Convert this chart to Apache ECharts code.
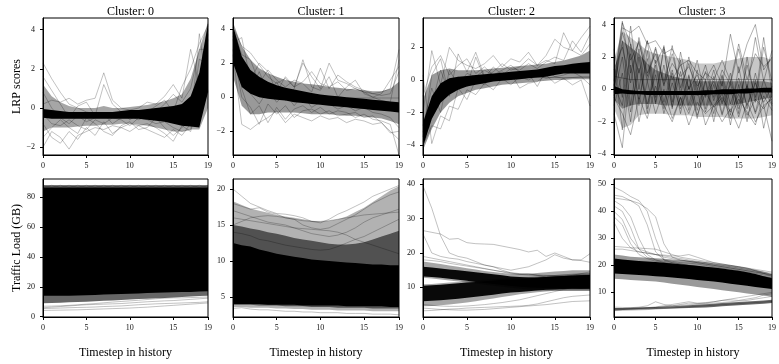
<!DOCTYPE html>
<html>
<head>
<meta charset="utf-8">
<script src="https://cdn.jsdelivr.net/npm/echarts@6/dist/echarts.min.js"></script>
<style>
  html, body { margin: 0; padding: 0; background: #fff; }
  #chart { width: 779px; height: 364px; }
</style>
</head>
<body>
<div id="chart"></div>
<script>
// x positions (timestep in history)
const steps = [0, 1, 2, 3, 4, 5, 6, 7, 8, 9, 10, 11, 12, 13, 14, 15, 16, 17, 18, 19]
const clusterNames = ['Cluster: 0', 'Cluster: 1', 'Cluster: 2', 'Cluster: 3']
const xTicks = [0, 5, 10, 15, 19]
const lrpTicks = [[-2, 0, 2, 4], [-2, 0, 2, 4], [-4, -2, 0, 2], [-4, -2, 0, 2, 4]]
const loadTicks = [[0, 20, 40, 60, 80], [5, 10, 15, 20], [10, 20, 30, 40], [10, 20, 30, 40, 50]]

// ---- cluster 0, LRP ----
const c0LrpOuterLo = [-1.2, -1.0, -1.0, -1.0, -0.95, -0.9, -0.9, -0.85, -0.85, -0.8, -0.8, -0.85, -0.9, -1.0, -1.1, -1.2, -1.2, -1.1, -1.1, 0.0]
const c0LrpOuterHi = [1.2, 0.6, 0.3, 0.1, 0.0, 0.0, 0.0, 0.1, 0.0, 0.0, 0.05, 0.1, 0.15, 0.25, 0.35, 0.5, 0.7, 1.5, 3.0, 4.4]
const c0LrpCoreLo = [-0.5, -0.55, -0.55, -0.55, -0.55, -0.55, -0.55, -0.55, -0.55, -0.55, -0.55, -0.55, -0.6, -0.65, -0.7, -0.8, -0.9, -0.95, -1.0, 0.8]
const c0LrpCoreHi = [-0.05, -0.1, -0.15, -0.2, -0.2, -0.2, -0.2, -0.2, -0.2, -0.15, -0.1, -0.1, -0.05, 0.0, 0.05, 0.1, 0.2, 0.6, 1.8, 4.3]
const c0LrpLines = [
  [2.3, 1.5, 0.8, 0.2, 0.0, -0.2, -0.3, -0.3, -0.3, -0.3, -0.3, -0.3, -0.3, -0.3, -0.3, -0.4, -0.5, -0.5, 1.0, 3.5],
  [-2.0, -1.2, -1.5, -2.1, -1.4, -1.2, -1.0, -1.1, -0.9, -1.0, -0.8, -0.9, -0.8, -1.0, -1.3, -1.7, -0.9, -1.2, 0.5, 3.8],
  [0.2, 0.4, 0.3, 0.5, 0.2, 0.4, 0.5, 1.8, 0.4, 0.0, -0.1, 0.0, 0.3, 0.2, 0.6, 1.2, 0.5, 3.0, 1.2, 4.0],
  [-0.8, -1.5, -1.8, -1.2, -1.6, -1.0, -1.4, -0.7, -1.3, -1.0, -1.2, -0.9, -1.1, -1.3, -1.5, -1.1, -1.4, -0.8, 3.8, 0.8],
  [1.6, 0.9, 0.2, -0.5, 0.1, 0.3, -0.4, 1.2, 0.2, -0.2, -0.6, -0.3, -0.2, 0.1, 0.4, -0.2, 1.1, 2.0, 3.3, 4.2],
  [-1.5, -1.0, -0.6, -1.0, -1.3, -0.5, -0.8, -1.2, -1.4, -0.9, -0.7, -1.1, -1.0, -0.5, -1.0, -1.4, -1.0, -0.6, 2.5, 2.2],
  [0.8, 0.0, -0.5, -0.8, -0.4, -0.7, -0.5, -0.3, -0.8, -0.5, -0.4, -0.6, -0.4, -0.2, 0.2, 0.7, 0.3, 1.0, 3.0, 3.0],
  [-0.3, -0.8, -0.9, -0.6, -0.9, -1.1, -0.6, -0.8, -0.5, -0.6, -0.9, -0.5, -0.6, -0.8, -0.7, -1.0, -1.2, -1.1, 1.2, 4.3]
]

// ---- cluster 1, LRP ----
const c1LrpOuterLo = [1.2, -0.5, -1.0, -1.0, -0.9, -0.9, -0.9, -0.9, -0.95, -1.0, -1.0, -1.0, -1.05, -1.1, -1.1, -1.15, -1.2, -1.25, -1.4, -1.6]
const c1LrpOuterHi = [4.4, 3.0, 2.2, 1.7, 1.4, 1.2, 1.0, 0.9, 0.8, 0.75, 0.7, 0.6, 0.55, 0.5, 0.45, 0.4, 0.35, 0.35, 0.5, 0.9]
const c1LrpCoreLo = [2.0, 0.6, 0.2, 0.0, -0.1, -0.15, -0.2, -0.3, -0.35, -0.4, -0.45, -0.5, -0.55, -0.6, -0.65, -0.7, -0.75, -0.8, -0.85, -0.9]
const c1LrpCoreHi = [4.2, 2.4, 1.6, 1.2, 0.9, 0.7, 0.55, 0.45, 0.35, 0.25, 0.15, 0.1, 0.05, 0.0, -0.05, -0.1, -0.15, -0.2, -0.25, -0.3]
const c1LrpLines = [
  [4.0, 1.5, 0.8, 0.5, 0.3, 0.2, 0.1, 0.05, 0.0, 0.0, -0.05, -0.05, -0.05, -0.05, -0.05, -0.05, -0.05, -0.05, -0.05, -0.05],
  [3.2, 3.5, 1.0, 2.0, 1.5, 0.3, 1.2, 0.6, 2.0, 1.2, 0.5, 2.0, 1.0, 0.8, 0.5, 0.3, 0.2, 0.3, 0.5, 2.8],
  [2.5, -1.6, -1.9, -1.5, -1.2, -0.8, -1.5, -1.0, -1.2, -1.4, -1.1, -1.3, -1.2, -1.5, -1.3, -1.4, -1.6, -1.5, -2.0, -2.5],
  [4.0, 2.5, 2.2, 0.8, 1.6, 1.0, 0.6, 1.0, 0.8, 0.3, 1.7, 0.5, 1.3, 0.9, 0.6, 0.4, 0.2, 0.1, 0.2, 1.5],
  [3.4, 0.5, -1.0, -0.5, -1.5, -0.6, -1.3, -0.7, -0.5, -0.9, -0.6, -1.0, -0.8, -0.9, -1.2, -1.0, -1.3, -1.4, -1.6, -3.4],
  [3.6, 1.8, 0.3, 1.5, 0.2, 0.9, -0.2, 0.5, 2.2, 0.6, 0.4, 1.2, 0.0, 0.6, 1.0, 0.2, 0.0, -0.2, -0.3, 2.2],
  [2.8, 0.0, -0.6, -1.6, -0.4, -1.0, -0.5, -1.2, -0.8, -0.7, -1.0, -0.8, -1.1, -1.0, -0.9, -1.2, -1.1, -1.5, -2.1, -2.0],
  [4.1, 3.0, 2.6, 1.9, 1.2, 0.8, 1.1, 0.6, 0.9, 1.5, 0.8, 0.6, 0.9, 0.4, 0.5, 0.3, 0.0, 0.2, 1.0, 1.8],
  [3.8, 1.2, 0.2, -0.4, 0.4, -0.3, 0.2, -0.5, 0.1, -0.6, -0.3, -0.4, -0.7, -0.5, -0.8, -0.6, -0.9, -1.0, -1.2, -1.8]
]

// ---- cluster 2, LRP ----
const c2LrpOuterLo = [-4.3, -3.0, -2.0, -1.4, -1.0, -0.8, -0.6, -0.5, -0.4, -0.3, -0.25, -0.2, -0.15, -0.1, -0.05, 0.0, 0.0, 0.05, 0.05, 0.05]
const c2LrpOuterHi = [-1.2, 0.3, 0.6, 0.7, 0.6, 0.6, 0.6, 0.65, 0.7, 0.75, 0.8, 0.85, 0.9, 0.95, 1.0, 1.1, 1.2, 1.35, 1.5, 1.8]
const c2LrpCoreLo = [-4.1, -2.4, -1.4, -0.9, -0.6, -0.4, -0.3, -0.2, -0.1, -0.05, 0.0, 0.05, 0.1, 0.15, 0.2, 0.3, 0.4, 0.4, 0.4, 0.4]
const c2LrpCoreHi = [-2.6, -1.0, -0.2, 0.1, 0.2, 0.25, 0.3, 0.35, 0.4, 0.45, 0.5, 0.55, 0.6, 0.65, 0.75, 0.85, 0.9, 1.0, 1.05, 1.1]
const c2LrpLines = [
  [-3.5, 0.3, 1.3, -1.0, 1.6, 0.5, 1.7, 0.2, 0.5, 1.0, 0.6, 0.8, 1.3, 0.9, 1.5, 2.5, 2.0, 1.8, 2.6, 3.3],
  [0.3, -3.9, -2.2, -2.5, -0.5, -1.2, 0.0, -0.3, 0.3, 0.1, 0.4, -0.5, -0.2, -0.1, 0.3, -0.2, 0.1, -0.3, 0.0, -1.6],
  [-2.0, 1.8, -0.3, 2.0, 1.2, 0.9, 0.7, 1.0, 1.5, 0.8, 1.3, 1.1, 1.7, 0.9, 1.2, 1.0, 2.9, 1.8, 1.5, 2.2],
  [-4.0, -2.8, -3.0, -1.6, -1.8, -0.6, -0.9, -0.2, -0.6, 0.1, -0.3, 0.2, 0.0, 0.3, 0.1, 0.2, 0.1, 0.15, 0.2, 0.2],
  [-1.0, 0.8, 1.5, 0.3, 0.9, 1.3, 0.4, 0.8, 0.3, 0.6, 0.9, 0.5, 0.4, -0.4, 0.6, 0.2, 0.3, 0.5, 0.2, -0.3],
  [-3.8, -1.5, 0.6, -0.8, 0.2, -0.4, 1.4, 0.1, 0.8, 0.3, 0.7, 0.6, 1.0, 0.7, 1.1, 1.4, 1.2, 2.4, 1.7, 2.8],
  [-2.8, -0.5, -2.0, 0.6, -0.3, 0.4, 0.2, 0.6, 0.3, 0.5, 0.2, 0.4, 0.3, 0.6, 0.4, 0.5, 0.6, 0.7, 0.8, 1.0],
  [-3.2, -1.8, -0.8, -0.4, -0.2, 0.0, 0.05, 0.1, 0.1, 0.1, 0.15, 0.15, 0.15, 0.15, 0.15, 0.15, 0.15, 0.15, 0.15, 0.15]
]

// ---- cluster 3, LRP ----
const c3LrpOuterLo = [-1.2, -2.4, -2.2, -1.6, -1.5, -1.5, -1.5, -1.6, -1.6, -1.6, -1.7, -1.7, -1.7, -1.7, -1.8, -1.8, -1.8, -1.8, -1.7, -1.6]
const c3LrpOuterHi = [1.8, 3.6, 3.2, 2.8, 2.4, 2.2, 2.1, 2.0, 1.9, 1.8, 1.6, 1.6, 1.6, 1.7, 1.8, 1.9, 2.0, 2.0, 2.0, 1.8]
const c3LrpMidLo = [-0.6, -1.2, -1.0, -0.9, -0.9, -0.9, -1.0, -1.0, -1.0, -1.0, -1.0, -1.0, -1.0, -1.0, -1.0, -0.9, -0.8, -0.7, -0.6, -0.5]
const c3LrpMidHi = [0.8, 3.0, 2.6, 2.2, 1.6, 1.2, 1.0, 0.8, 0.7, 0.6, 0.5, 0.5, 0.5, 0.5, 0.5, 0.5, 0.5, 0.5, 0.5, 0.4]
const c3LrpCoreLo = [-0.3, -0.25, -0.3, -0.3, -0.35, -0.35, -0.35, -0.35, -0.35, -0.35, -0.35, -0.35, -0.3, -0.3, -0.3, -0.25, -0.25, -0.2, -0.2, -0.2]
const c3LrpCoreHi = [0.2, 0.0, -0.05, -0.1, -0.1, -0.1, -0.1, -0.1, -0.1, -0.1, -0.1, -0.05, -0.05, 0.0, 0.0, 0.0, 0.05, 0.05, 0.1, 0.1]
const c3LrpLines = [
  [0.5, 4.2, 1.0, 3.0, 0.5, 2.5, 0.2, 2.7, -0.3, 2.0, 0.0, 1.5, -0.5, 1.2, 0.3, 2.5, 0.0, 3.2, 0.5, 2.4],
  [2.5, -0.5, 3.9, 0.0, 3.0, -0.5, 2.5, -0.8, 1.8, -1.0, 1.2, -1.2, 0.8, -1.5, 0.5, -1.0, 1.5, -0.5, 3.2, -0.2],
  [-1.5, -3.6, 1.5, -2.0, 0.5, -1.5, 0.0, -1.8, -0.5, -2.2, -0.8, -1.5, -1.0, -2.0, -1.2, -2.4, -0.8, -2.0, -1.0, -3.2],
  [0.0, 3.8, 3.5, 3.9, 2.8, 3.0, 2.2, 2.5, 1.5, 1.8, 1.0, 0.6, 1.5, 0.2, 3.4, 1.0, 2.8, 4.0, 1.2, 2.0],
  [-1.0, 1.0, -2.0, 2.0, -1.5, 1.5, -1.2, 1.0, -1.5, 0.8, -1.8, 0.5, -2.0, 0.5, -2.2, 0.3, -2.0, 0.6, -2.4, 0.0],
  [2.0, -2.5, 2.8, -1.0, 2.4, -0.8, 2.7, -1.2, 2.3, 0.0, 1.8, -0.5, 1.2, -0.8, 1.0, -1.5, 2.0, -0.8, 2.6, 0.5],
  [0.2, 4.1, 2.8, 1.0, 3.0, 1.6, 2.6, 0.6, 1.5, 0.0, 0.9, -0.4, 0.5, -0.9, 0.3, -1.2, 0.2, -1.5, 0.0, -1.0],
  [-0.5, -1.5, -2.8, -0.5, -1.8, 0.2, -1.0, -2.0, -0.5, -1.5, 0.0, -2.2, -1.0, -0.3, -1.8, -0.6, -1.4, -2.2, -0.4, -1.3],
  [1.2, 2.6, 0.4, 3.2, 1.0, 2.2, 0.3, 1.6, 0.8, 1.4, 0.2, 1.0, 0.6, 1.8, 0.5, 2.8, 0.6, 2.2, 1.4, 1.9],
  [0.0, 3.0, -1.0, 2.5, -1.2, 1.8, -0.8, 1.2, -1.0, 0.9, -1.3, 0.6, -1.5, 0.8, -1.6, 1.4, -1.2, 1.0, -1.0, -0.6],
  [0.8, 0.7, 0.6, 0.6, 0.6, 0.6, 0.6, 0.6, 0.6, 0.6, 0.6, 0.6, 0.6, 0.6, 0.6, 0.6, 0.6, 0.6, 0.6, 0.6],
  [-0.2, 3.5, 1.8, 2.9, 0.8, 2.6, 0.5, 2.2, 0.1, 1.6, -0.4, 1.1, -0.7, 0.9, -0.9, 0.7, -1.0, 0.4, -0.8, 0.2],
  [0.3, -1.0, 2.2, -0.6, 1.9, -0.9, 1.5, -1.1, 1.1, -1.3, 0.6, -1.4, 0.3, -1.6, 0.0, -1.7, 0.3, -1.4, 0.6, -0.9],
  [-0.4, 2.0, -1.4, 1.3, -0.9, 0.9, -1.5, 0.4, -1.2, 0.2, -1.6, -0.2, -1.1, -0.5, -1.4, -0.3, -1.6, -0.6, -1.2, -0.4]
]

// ---- cluster 0, traffic load (GB) ----
const c0LoadOuterLo = [9.0, 9.2, 9.4, 9.6, 9.8, 10.0, 10.3, 10.6, 10.9, 11.2, 11.5, 11.8, 12.0, 12.3, 12.6, 12.9, 13.2, 13.5, 13.8, 14.0]
const c0LoadOuterHi = [88.0, 88.0, 88.0, 88.0, 88.0, 88.0, 88.0, 88.0, 88.0, 88.0, 88.0, 88.0, 88.0, 88.0, 88.0, 88.0, 88.0, 88.0, 88.0, 88.0]
const c0LoadCoreLo = [14.0, 14.0, 14.0, 14.0, 14.2, 14.4, 14.6, 14.8, 15.0, 15.2, 15.4, 15.6, 15.8, 16.0, 16.2, 16.4, 16.5, 16.6, 16.8, 17.0]
const c0LoadCoreHi = [86.5, 86.5, 86.5, 86.5, 86.5, 86.5, 86.5, 86.5, 86.5, 86.5, 86.5, 86.5, 86.5, 86.5, 86.5, 86.5, 86.5, 86.5, 86.5, 86.5]
const c0LoadLines = [
  [88.0, 86.8, 88.0, 86.8, 88.0, 86.8, 88.0, 86.8, 88.0, 86.8, 88.0, 86.8, 88.0, 86.8, 88.0, 86.8, 88.0, 86.8, 88.0, 86.8],
  [86.8, 88.0, 86.8, 88.0, 86.8, 88.0, 86.8, 88.0, 86.8, 88.0, 86.8, 88.0, 86.8, 88.0, 86.8, 88.0, 86.8, 88.0, 86.8, 88.0],
  [5.5, 5.6, 5.8, 6.0, 6.2, 6.3, 6.5, 6.8, 7.0, 7.2, 7.6, 8.0, 8.3, 8.6, 8.8, 9.0, 9.2, 9.4, 9.6, 10.0],
  [4.2, 4.3, 4.4, 4.5, 4.6, 4.8, 5.0, 5.2, 5.4, 5.6, 5.8, 6.1, 6.4, 6.8, 7.2, 7.6, 8.0, 8.4, 8.8, 9.2],
  [7.0, 7.1, 7.3, 7.6, 8.0, 8.4, 8.8, 9.3, 9.8, 10.2, 10.6, 11.0, 11.5, 12.0, 12.4, 12.6, 12.6, 12.8, 13.0, 13.2],
  [6.0, 6.4, 6.8, 7.2, 7.6, 8.0, 8.2, 8.4, 8.6, 8.8, 9.2, 9.6, 10.0, 10.3, 10.6, 10.8, 11.2, 11.6, 12.0, 12.4]
]

// ---- cluster 1, traffic load (GB) ----
const c1LoadOuterLo = [3.6, 3.6, 3.5, 3.5, 3.5, 3.4, 3.4, 3.3, 3.3, 3.2, 3.2, 3.2, 3.1, 3.1, 3.1, 3.1, 3.0, 3.0, 3.0, 3.0]
const c1LoadOuterHi = [18.3, 17.8, 17.3, 17.0, 16.7, 16.4, 16.2, 16.0, 15.8, 15.6, 15.5, 15.6, 15.8, 16.2, 16.8, 17.4, 18.2, 19.0, 19.8, 20.4]
const c1LoadMidLo = [3.9, 3.9, 3.9, 3.8, 3.8, 3.8, 3.7, 3.7, 3.7, 3.6, 3.6, 3.6, 3.5, 3.5, 3.5, 3.5, 3.4, 3.4, 3.4, 3.4]
const c1LoadMidHi = [15.0, 14.8, 14.5, 14.3, 14.0, 13.8, 13.5, 13.2, 13.0, 12.8, 12.6, 12.4, 12.3, 12.3, 12.4, 12.6, 13.0, 13.4, 13.8, 14.2]
const c1LoadCoreLo = [4.0, 4.0, 4.0, 4.0, 3.9, 3.9, 3.9, 3.9, 3.8, 3.8, 3.8, 3.8, 3.8, 3.7, 3.7, 3.7, 3.7, 3.7, 3.6, 3.6]
const c1LoadCoreHi = [12.5, 12.2, 12.0, 11.6, 11.3, 11.0, 10.8, 10.6, 10.4, 10.2, 10.1, 10.0, 9.9, 9.8, 9.7, 9.6, 9.5, 9.5, 9.4, 9.4]
const c1LoadLines = [
  [20.0, 19.0, 18.0, 17.5, 17.0, 16.6, 16.5, 16.3, 16.0, 15.5, 15.3, 15.8, 16.5, 17.0, 17.6, 18.2, 19.0, 19.5, 20.0, 20.5],
  [18.0, 17.6, 17.2, 17.4, 16.8, 16.5, 16.0, 15.8, 15.0, 14.6, 14.4, 14.6, 15.2, 15.8, 16.4, 17.2, 18.0, 18.6, 19.2, 19.6],
  [17.0, 16.6, 16.2, 15.8, 15.4, 15.2, 15.0, 14.6, 14.2, 13.8, 13.6, 13.4, 13.6, 14.0, 14.6, 15.4, 16.0, 16.4, 16.8, 17.2],
  [16.0, 15.8, 15.6, 15.4, 15.2, 15.0, 14.8, 14.6, 14.5, 14.4, 14.3, 14.2, 14.0, 13.6, 13.0, 12.6, 12.2, 11.8, 11.4, 11.0],
  [15.0, 15.5, 16.0, 16.2, 16.3, 16.2, 16.0, 15.8, 15.6, 15.5, 15.5, 15.6, 15.8, 16.0, 16.2, 16.4, 16.5, 16.6, 16.7, 16.8],
  [14.0, 13.8, 13.5, 13.0, 12.8, 12.5, 12.2, 12.0, 11.8, 11.6, 11.5, 11.6, 12.0, 12.5, 13.0, 13.4, 14.0, 14.6, 15.2, 15.8],
  [3.4, 3.5, 3.3, 3.2, 3.2, 3.1, 3.0, 3.0, 2.9, 2.9, 2.8, 2.8, 2.8, 2.7, 2.7, 2.7, 2.6, 2.6, 2.6, 2.5]
]

// ---- cluster 2, traffic load (GB) ----
const c2LoadUpOuterLo = [12.8, 12.6, 12.3, 12.0, 11.7, 11.4, 11.1, 10.8, 10.5, 10.2, 9.9, 9.6, 9.4, 9.2, 9.0, 9.0, 9.0, 9.0, 9.0, 9.0]
const c2LoadUpOuterHi = [17.5, 17.2, 16.8, 16.4, 16.0, 15.6, 15.2, 14.8, 14.5, 14.2, 14.0, 14.0, 14.0, 14.2, 14.4, 14.6, 14.8, 15.0, 15.0, 15.0]
const c2LoadUpCoreLo = [13.2, 13.0, 12.8, 12.5, 12.2, 11.9, 11.6, 11.3, 11.0, 10.7, 10.4, 10.2, 10.0, 9.9, 9.8, 9.8, 9.7, 9.7, 9.6, 9.6]
const c2LoadUpCoreHi = [16.0, 15.8, 15.5, 15.2, 15.0, 14.7, 14.4, 14.1, 13.8, 13.5, 13.2, 13.0, 12.9, 12.9, 13.0, 13.2, 13.3, 13.4, 13.5, 13.6]
const c2LoadLowOuterLo = [4.5, 4.6, 4.8, 5.0, 5.3, 5.6, 6.0, 6.4, 6.8, 7.2, 7.6, 8.0, 8.3, 8.6, 8.8, 9.0, 9.0, 9.0, 9.0, 9.0]
const c2LoadLowOuterHi = [10.9, 11.0, 11.2, 11.4, 11.6, 11.8, 12.0, 12.2, 12.4, 12.6, 12.7, 12.8, 13.0, 13.2, 13.4, 13.6, 13.8, 14.0, 14.1, 14.2]
const c2LoadLowCoreLo = [6.0, 6.1, 6.3, 6.5, 6.7, 7.0, 7.3, 7.6, 7.9, 8.2, 8.5, 8.7, 8.9, 9.1, 9.3, 9.4, 9.5, 9.6, 9.6, 9.7]
const c2LoadLowCoreHi = [10.5, 10.6, 10.8, 11.0, 11.2, 11.4, 11.6, 11.8, 12.0, 12.2, 12.3, 12.4, 12.6, 12.8, 13.0, 13.2, 13.3, 13.4, 13.5, 13.6]
const c2LoadLines = [
  [39.5, 33.0, 25.0, 20.0, 19.0, 18.5, 17.5, 16.5, 16.0, 15.0, 14.2, 13.8, 14.0, 13.5, 13.0, 12.8, 13.0, 13.5, 14.0, 14.5],
  [26.5, 26.0, 25.5, 24.0, 24.2, 23.0, 22.7, 22.6, 22.5, 22.0, 21.5, 21.0, 20.3, 20.8, 19.0, 20.0, 19.0, 18.0, 17.8, 17.3],
  [25.5, 20.0, 19.0, 18.5, 18.2, 17.5, 17.0, 16.5, 16.0, 15.5, 15.0, 15.5, 16.0, 17.0, 18.0, 19.5, 18.5, 18.0, 18.0, 19.8],
  [19.0, 18.5, 18.0, 17.5, 17.0, 16.5, 16.0, 15.5, 15.0, 14.5, 14.0, 13.8, 13.6, 13.5, 13.4, 13.3, 13.2, 13.1, 13.0, 13.0],
  [18.0, 17.8, 17.5, 17.0, 16.6, 16.2, 15.8, 15.4, 15.0, 14.6, 14.3, 14.0, 13.8, 13.6, 13.5, 13.4, 13.4, 13.5, 13.6, 13.7],
  [3.2, 3.3, 3.5, 3.7, 3.8, 4.0, 4.1, 4.2, 4.3, 4.4, 4.5, 4.6, 4.8, 5.2, 5.8, 6.4, 7.0, 7.4, 7.6, 7.8],
  [4.0, 3.8, 3.6, 3.5, 3.4, 3.4, 3.5, 3.6, 3.8, 4.0, 4.2, 4.4, 4.6, 4.8, 5.0, 5.3, 5.6, 5.9, 6.0, 6.1],
  [5.0, 4.8, 4.6, 4.5, 4.5, 4.6, 4.8, 5.0, 5.3, 5.6, 6.0, 6.4, 7.0, 7.6, 8.2, 8.8, 9.4, 10.0, 10.5, 11.0]
]

// ---- cluster 3, traffic load (GB) ----
const c3LoadOuterLo = [15.0, 14.8, 14.6, 14.4, 14.2, 14.0, 13.6, 13.2, 12.8, 12.4, 12.0, 11.6, 11.2, 10.8, 10.4, 10.0, 9.6, 9.2, 8.8, 8.4]
const c3LoadOuterHi = [24.0, 23.6, 23.2, 23.0, 22.8, 22.6, 22.4, 22.2, 22.0, 21.8, 21.5, 21.2, 20.8, 20.4, 20.0, 19.6, 19.0, 18.4, 17.6, 16.8]
const c3LoadCoreLo = [17.0, 16.8, 16.6, 16.4, 16.2, 16.0, 15.8, 15.5, 15.2, 14.9, 14.6, 14.3, 14.0, 13.6, 13.2, 12.8, 12.4, 12.0, 11.6, 11.2]
const c3LoadCoreHi = [22.5, 22.2, 21.9, 21.6, 21.4, 21.2, 21.0, 20.7, 20.4, 20.1, 19.8, 19.5, 19.2, 18.8, 18.4, 18.0, 17.4, 16.8, 16.0, 15.2]
const c3LoadLowLo = [3.3, 3.4, 3.5, 3.6, 3.7, 3.8, 3.9, 4.0, 4.1, 4.2, 4.3, 4.4, 4.6, 4.8, 5.0, 5.2, 5.4, 5.6, 5.8, 6.0]
const c3LoadLowHi = [4.2, 4.2, 4.3, 4.4, 4.5, 4.6, 4.7, 4.8, 5.0, 5.2, 5.4, 5.6, 5.8, 6.0, 6.2, 6.4, 6.6, 6.8, 7.0, 7.2]
const c3LoadLines = [
  [49.0, 47.5, 45.5, 44.0, 40.0, 30.0, 22.0, 21.5, 21.0, 20.8, 20.5, 20.0, 19.5, 19.0, 18.5, 18.0, 17.5, 17.0, 16.5, 16.0],
  [46.0, 45.5, 44.0, 42.0, 35.0, 25.0, 22.0, 21.0, 20.5, 20.0, 19.5, 19.0, 18.5, 18.0, 17.5, 17.0, 16.5, 16.0, 15.5, 15.0],
  [44.0, 42.0, 38.0, 30.0, 24.0, 22.0, 21.5, 21.0, 20.5, 20.0, 19.6, 19.2, 18.8, 18.4, 18.0, 17.6, 17.0, 16.4, 15.8, 15.2],
  [42.0, 40.0, 34.0, 26.0, 23.0, 22.0, 21.0, 20.5, 20.0, 19.5, 19.0, 18.5, 18.0, 17.5, 17.0, 16.5, 16.0, 15.5, 15.0, 14.5],
  [38.0, 35.0, 28.0, 24.0, 22.5, 21.5, 21.0, 20.5, 20.0, 19.5, 19.0, 18.6, 18.2, 17.8, 17.4, 17.0, 16.6, 16.2, 15.8, 15.4],
  [45.0, 44.5, 44.0, 43.0, 41.0, 38.0, 28.0, 23.0, 22.0, 21.5, 21.0, 20.5, 20.0, 19.5, 19.0, 18.5, 18.0, 17.5, 17.0, 16.5],
  [40.0, 37.0, 30.0, 26.0, 25.0, 24.0, 23.5, 23.0, 22.5, 22.0, 21.5, 21.0, 20.5, 20.0, 19.5, 19.0, 18.5, 18.0, 17.5, 17.0],
  [36.0, 30.0, 26.5, 25.0, 24.5, 24.0, 23.0, 22.5, 22.0, 21.5, 21.0, 20.5, 20.0, 19.5, 19.0, 18.5, 18.0, 17.5, 17.0, 16.5],
  [27.0, 26.8, 26.5, 26.4, 26.2, 26.0, 25.0, 24.0, 23.0, 22.5, 22.0, 21.5, 21.0, 20.5, 20.0, 19.5, 19.0, 18.0, 17.0, 16.0],
  [26.0, 26.0, 25.5, 25.0, 24.5, 24.0, 23.8, 23.5, 23.5, 24.0, 23.0, 22.0, 21.0, 20.5, 20.0, 19.5, 19.0, 18.5, 18.0, 17.5],
  [3.5, 3.6, 3.8, 4.0, 4.2, 4.4, 4.6, 5.0, 5.2, 5.4, 5.6, 5.8, 6.0, 6.2, 6.5, 6.8, 7.0, 7.5, 8.0, 8.5],
  [4.0, 4.0, 4.1, 4.2, 4.3, 4.6, 5.0, 5.5, 6.0, 6.5, 6.0, 6.2, 6.5, 7.0, 7.5, 8.0, 8.5, 9.0, 9.5, 10.0],
  [3.2, 3.3, 3.4, 3.5, 3.6, 3.8, 4.0, 4.2, 4.4, 4.6, 4.8, 5.0, 5.2, 5.4, 5.6, 5.8, 6.0, 6.2, 6.4, 6.6],
  [4.5, 4.4, 4.3, 4.5, 5.0, 6.5, 5.5, 5.0, 5.5, 6.0, 5.8, 6.0, 6.5, 7.0, 7.2, 7.0, 7.5, 8.0, 9.0, 9.5]
]

// panels: 0-3 top row (LRP), 4-7 bottom row (traffic load)
const panels = [
  { bands: [[c0LrpOuterLo, c0LrpOuterHi, 0.35], [c0LrpCoreLo, c0LrpCoreHi, 1]], lines: c0LrpLines, alpha: 0.35, range: [-2.4, 4.6], ticks: lrpTicks[0] },
  { bands: [[c1LrpOuterLo, c1LrpOuterHi, 0.4], [c1LrpCoreLo, c1LrpCoreHi, 1]], lines: c1LrpLines, alpha: 0.35, range: [-3.4, 4.65], ticks: lrpTicks[1] },
  { bands: [[c2LrpOuterLo, c2LrpOuterHi, 0.4], [c2LrpCoreLo, c2LrpCoreHi, 1]], lines: c2LrpLines, alpha: 0.35, range: [-4.6, 3.8], ticks: lrpTicks[2] },
  { bands: [[c3LrpOuterLo, c3LrpOuterHi, 0.22], [c3LrpMidLo, c3LrpMidHi, 0.35], [c3LrpCoreLo, c3LrpCoreHi, 1]], lines: c3LrpLines, alpha: 0.45, range: [-4.05, 4.4], ticks: lrpTicks[3] },
  { bands: [[c0LoadOuterLo, c0LoadOuterHi, 0.6], [c0LoadCoreLo, c0LoadCoreHi, 1]], lines: c0LoadLines, alpha: 0.35, range: [-0.2, 92.2], ticks: loadTicks[0] },
  { bands: [[c1LoadOuterLo, c1LoadOuterHi, 0.3], [c1LoadMidLo, c1LoadMidHi, 0.55], [c1LoadCoreLo, c1LoadCoreHi, 1]], lines: c1LoadLines, alpha: 0.35, range: [2.2, 21.4], ticks: loadTicks[1] },
  { bands: [[c2LoadUpOuterLo, c2LoadUpOuterHi, 0.35], [c2LoadLowOuterLo, c2LoadLowOuterHi, 0.35], [c2LoadUpCoreLo, c2LoadUpCoreHi, 0.95], [c2LoadLowCoreLo, c2LoadLowCoreHi, 0.95]], lines: c2LoadLines, alpha: 0.35, range: [1.4, 41.5], ticks: loadTicks[2] },
  { bands: [[c3LoadOuterLo, c3LoadOuterHi, 0.4], [c3LoadCoreLo, c3LoadCoreHi, 1], [c3LoadLowLo, c3LoadLowHi, 0.6]], lines: c3LoadLines, alpha: 0.35, range: [0.85, 52], ticks: loadTicks[3] }
]

const font = 'Liberation Serif'
const lefts = [43, 233, 423, 614]
const widths = [165, 166, 167, 166]

let grids = [], xAxes = [], yAxes = [], series = [], titles = []
panels.forEach((p, i) => {
  const col = i % 4
  const top = i < 4
  grids.push({
    left: lefts[col], width: widths[col],
    top: top ? 18 : 179, height: top ? 137 : 138,
    show: true, borderColor: '#000', borderWidth: 1
  })
  xAxes.push({
    type: 'value', gridIndex: i, min: 0, max: 19,
    name: top ? '' : 'Timestep in history',
    nameLocation: 'middle', nameGap: 30,
    nameTextStyle: { fontFamily: font, fontSize: 12, color: '#000' },
    axisLine: { onZero: false, lineStyle: { color: '#000', width: 1 } },
    axisTick: { length: 3, customValues: xTicks, lineStyle: { color: '#000' } },
    axisLabel: { customValues: xTicks, fontFamily: font, fontSize: 8, color: '#111', margin: 7 },
    splitLine: { show: false }
  })
  yAxes.push({
    type: 'value', gridIndex: i, min: p.range[0], max: p.range[1],
    name: col === 0 ? (top ? 'LRP scores' : 'Traffic Load (GB)') : '',
    nameLocation: 'middle', nameGap: 19,
    nameTextStyle: { fontFamily: font, fontSize: 12, color: '#000' },
    axisLine: { onZero: false, lineStyle: { color: '#000', width: 1 } },
    axisTick: { length: 3, customValues: p.ticks, lineStyle: { color: '#000' } },
    axisLabel: {
      customValues: p.ticks, fontFamily: font, fontSize: 8, color: '#111', margin: 8,
      formatter: v => String(v).replace('-', '\u2212')
    },
    splitLine: { show: false }
  })
  p.bands.forEach(b => {
    const lo = b[0], hi = b[1], op = b[2]
    series.push({
      type: 'custom', xAxisIndex: i, yAxisIndex: i, silent: true, data: [[0, 0]], z: 2,
      renderItem: function (params, api) {
        const pts = []
        steps.forEach((s, k) => pts.push(api.coord([s, hi[k]])))
        for (let k = steps.length - 1; k >= 0; k--) pts.push(api.coord([steps[k], lo[k]]))
        return { type: 'polygon', shape: { points: pts }, style: { fill: '#000', opacity: op } }
      }
    })
  })
  p.lines.forEach(vals => {
    series.push({
      type: 'line', xAxisIndex: i, yAxisIndex: i, silent: true, symbol: 'none', z: 3,
      data: steps.map((s, k) => [s, vals[k]]),
      lineStyle: { color: '#000', width: 0.7, opacity: p.alpha }
    })
  })
  if (top) {
    titles.push({
      text: clusterNames[col], left: lefts[col] + widths[col] / 2, top: 1, textAlign: 'center',
      textStyle: { fontFamily: font, fontSize: 12, fontWeight: 'normal', color: '#000' }
    })
  }
})

let chart = echarts.init(document.getElementById('chart'))
chart.setOption({
  animation: false,
  title: titles,
  grid: grids,
  xAxis: xAxes,
  yAxis: yAxes,
  series: series
})
</script>
</body>
</html>
